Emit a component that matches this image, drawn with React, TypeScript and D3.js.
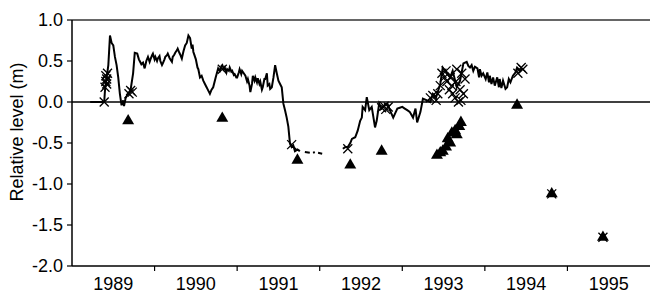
import React from "react";
import * as d3 from "d3";

// Continuous level record (decimal year, relative level in m); NaN = gap
const lineYears = [
  1988.72, 1988.89, 1988.90, 1988.92, 1988.94, 1988.96, 1988.98, 1989.00, 1989.02, 1989.04,
  1989.06, 1989.08, 1989.10, 1989.12, 1989.13, 1989.15, 1989.18, 1989.21, 1989.24, 1989.26,
  1989.29, 1989.31, 1989.32, 1989.34, 1989.36, 1989.38, 1989.40, 1989.42, 1989.44, 1989.45,
  1989.47, 1989.48, 1989.50, 1989.51, 1989.53, 1989.54, 1989.56, 1989.57, 1989.59, 1989.60,
  1989.62, 1989.63, 1989.65, 1989.66, 1989.68, 1989.69, 1989.71, 1989.72, 1989.74, 1989.75,
  1989.77, 1989.78, 1989.80, 1989.81, 1989.83, 1989.85, 1989.87, 1989.89, 1989.91, 1989.93,
  1989.95, 1989.96, 1989.97, 1989.98, 1989.99, 1990.00, 1990.01, 1990.02, 1990.03, 1990.04,
  1990.05, 1990.07, 1990.09, 1990.11, 1990.13, 1990.14, 1990.16, 1990.17, 1990.19, 1990.21,
  1990.24, 1990.27, 1990.29, 1990.31, 1990.32, 1990.34, 1990.35, 1990.37, 1990.38, 1990.40,
  1990.41, 1990.43, 1990.44, 1990.46, 1990.47, 1990.49, 1990.50, 1990.52, 1990.53, 1990.55,
  1990.56, 1990.58, 1990.60, 1990.62, 1990.63, 1990.65, 1990.66, 1990.68, 1990.69, 1990.71,
  1990.72, 1990.74, 1990.75, 1990.77, 1990.78, 1990.80, 1990.81, 1990.83, 1990.84, 1990.86,
  1990.87, 1990.89, 1990.90, 1990.92, 1990.94, 1990.96, 1990.98, 1991.00, 1991.02, 1991.04,
  1991.06, 1991.08, 1991.10, 1991.12, 1991.14, 1991.16, 1991.18, 1991.20, 1991.23, 1991.26,
  1991.29, 1991.32, 1991.38, 1991.40, 1991.42, 1991.44, 1991.46, 1991.48, 1991.53, 1991.60,
  1991.78, 1991.81, 1991.84, 1991.87, 1991.89, 1991.93, 1991.96, 1991.99, 1992.01, 1992.02,
  1992.05, 1992.07, 1992.10, 1992.13, 1992.17, 1992.19, 1992.22, 1992.25, 1992.27, 1992.29,
  1992.32, 1992.35, 1992.39, 1992.44, 1992.47, 1992.50, 1992.53, 1992.56, 1992.59, 1992.63,
  1992.66, 1992.68, 1992.72, 1992.75, 1992.80, 1992.84, 1992.87, 1992.91, 1992.96, 1992.99,
  1993.04, 1993.08, 1993.11, 1993.16, 1993.20, 1993.24, 1993.28, 1993.30, 1993.32, 1993.34,
  1993.36, 1993.38, 1993.41, 1993.43, 1993.44, 1993.46, 1993.48, 1993.51, 1993.53, 1993.55,
  1993.56, 1993.58, 1993.60, 1993.62, 1993.65, 1993.67, 1993.68, 1993.70, 1993.72, 1993.75,
  1993.77, 1993.79, 1993.81, 1993.84, 1993.87, 1993.89, 1993.93, 1993.96,
];
const lineValues = [
  0.00, 0.00, 0.15, 0.30, 0.45, 0.81, 0.72, 0.69, 0.55, 0.45,
  0.30, 0.10, -0.04, 0.02, -0.05, 0.05, 0.10, 0.15, 0.35, 0.60,
  0.59, 0.52, 0.50, 0.46, 0.48, 0.41, 0.50, 0.55, 0.49, 0.52,
  0.57, 0.59, 0.52, 0.55, 0.50, 0.53, 0.56, 0.50, 0.45, 0.47,
  0.52, 0.55, 0.57, 0.59, 0.54, 0.52, 0.49, 0.55, 0.58, 0.60,
  0.63, 0.65, 0.60, 0.58, 0.53, 0.62, 0.69, 0.72, 0.81, 0.78,
  0.65, 0.70, 0.61, 0.58, 0.55, 0.52, 0.47, 0.42, 0.40, 0.35,
  0.30, 0.32, 0.26, 0.22, 0.18, 0.16, 0.12, 0.10, 0.15, 0.18,
  0.30, 0.41, 0.38, 0.44, 0.45, 0.40, 0.42, 0.36, 0.40, 0.38,
  0.42, 0.37, 0.38, 0.33, 0.34, 0.30, 0.30, 0.36, 0.40, 0.34,
  0.38, 0.35, 0.32, 0.25, 0.28, 0.20, 0.12, 0.22, 0.32, 0.26,
  0.30, 0.24, 0.29, 0.22, 0.25, 0.15, 0.18, 0.28, 0.28, 0.35,
  0.20, 0.22, 0.16, 0.18, 0.30, 0.45, 0.35, 0.26, 0.22, 0.18,
  -0.02, -0.10, -0.19, -0.30, -0.51, -0.55, -0.53, -0.60, -0.58, -0.60,
  NaN, -0.61, -0.62, NaN, -0.62, -0.61, NaN, -0.62, -0.63, NaN,
  -0.57, -0.55, -0.55, -0.50, -0.45, -0.43, -0.35, -0.23, -0.19, -0.06,
  -0.10, 0.06, -0.10, -0.06, -0.31, -0.23, -0.02, -0.08, -0.06, -0.04,
  -0.02, -0.10, -0.19, -0.08, -0.07, -0.06, -0.08, -0.10, -0.12, -0.19,
  -0.08, -0.25, -0.12, 0.04, 0.02, 0.00, 0.10, 0.06, 0.22, 0.42,
  0.35, 0.30, 0.38, 0.18, 0.26, 0.47, 0.49, 0.44, 0.42, 0.45,
  0.38, 0.43, 0.41, 0.30, 0.40, 0.32, 0.35, 0.28, 0.36, 0.24,
  0.32, 0.22, 0.30, 0.20, 0.30, 0.18, 0.28, 0.17, 0.26, 0.16,
  0.18, 0.28, 0.24, 0.32, 0.36, 0.42, 0.38, 0.41,
];

// Spot measurements (cross markers)
const crossYears = [
  1988.89, 1988.90, 1988.91, 1988.91, 1988.92, 1988.93, 1988.92, 1989.19, 1989.21, 1989.23,
  1990.32, 1991.16, 1991.84, 1992.25, 1992.28, 1992.30, 1992.33,
  1992.84, 1992.87, 1992.91, 1992.93, 1992.96, 1992.98, 1993.01, 1993.03, 1993.04, 1993.07,
  1993.08, 1993.10, 1993.11, 1993.14, 1993.15, 1993.16, 1993.18, 1993.20, 1993.21, 1993.22,
  1993.24, 1993.26, 1993.90, 1993.94, 1993.96, 1994.31, 1994.93,
];
const crossValues = [
  0.00, 0.18, 0.25, 0.32, 0.28, 0.35, 0.22, 0.10, 0.14, 0.12,
  0.40, -0.52, -0.57, -0.07, -0.05, -0.09, -0.06,
  0.05, 0.08, 0.02, 0.10, 0.20, 0.35, 0.30, 0.38, 0.25, 0.15,
  0.30, 0.20, 0.10, 0.05, 0.25, 0.40, 0.00, 0.15, 0.02, 0.35,
  0.10, 0.28, 0.35, 0.42, 0.40, -1.12, -1.65,
];

// Second measurement series (filled triangles)
const triYears = [
  1989.18, 1990.32, 1991.23, 1991.87, 1992.25, 1992.92, 1992.96, 1992.99, 1993.03, 1993.05,
  1993.08, 1993.10, 1993.14, 1993.16, 1993.19, 1993.21, 1993.89, 1994.31, 1994.93,
];
const triValues = [
  -0.23, -0.20, -0.71, -0.77, -0.60, -0.65, -0.62, -0.60, -0.55, -0.45,
  -0.50, -0.38, -0.35, -0.40, -0.30, -0.25, -0.04, -1.12, -1.65,
];

const yTicks = [1.0, 0.5, 0.0, -0.5, -1.0, -1.5, -2.0];
const yearLabels = [1989, 1990, 1991, 1992, 1993, 1994, 1995];
const yearBoundaries = [1989.5, 1990.5, 1991.5, 1992.5, 1993.5, 1994.5];

const W = 650, H = 293;
const left = 72, right = 650, top = 20, bottom = 266;
const FONT = "'Liberation Sans', Arial, Helvetica, sans-serif";

export default function App() {
  const x = d3.scaleLinear().domain([1988.5, 1995.5]).range([left, right]);
  const y = d3.scaleLinear().domain([-2, 1]).range([bottom, top]);

  const linePts = lineYears.map((t, i) => [t, lineValues[i]] as [number, number]);
  const lineGen = d3
    .line<[number, number]>()
    .defined((d) => !isNaN(d[1]))
    .x((d) => x(d[0]))
    .y((d) => y(d[1]));

  const tri = d3.symbol().type(d3.symbolTriangle).size(62)();
  const cs = 4.5;

  return (
    <svg width={W} height={H} style={{ position: "absolute", left: 0, top: 0, background: "#fff" }}>
      <rect x={0} y={0} width={W} height={H} fill="#fff" />
      <line x1={left} x2={right} y1={y(1)} y2={y(1)} stroke="#333" strokeWidth={1.5} />
      <line x1={left} x2={right} y1={y(0)} y2={y(0)} stroke="#000" strokeWidth={1.5} />
      <line x1={left} x2={right} y1={bottom} y2={bottom} stroke="#000" strokeWidth={1.5} />
      <line x1={left} x2={left} y1={top} y2={bottom} stroke="#000" strokeWidth={1.5} />
      {yTicks.map((v) => (
        <g key={v}>
          <line x1={left - 5} x2={left} y1={y(v)} y2={y(v)} stroke="#000" strokeWidth={1.2} />
          <text x={left - 9} y={y(v)} dy="0.36em" textAnchor="end" fontFamily={FONT} fontSize={18} fill="#000">
            {v.toFixed(1)}
          </text>
        </g>
      ))}
      {yearBoundaries.map((b) => (
        <line key={b} x1={x(b)} x2={x(b)} y1={bottom} y2={bottom + 5} stroke="#000" strokeWidth={1.2} />
      ))}
      {yearLabels.map((yr) => (
        <text key={yr} x={x(yr)} y={290} textAnchor="middle" fontFamily={FONT} fontSize={18} fill="#000">
          {yr}
        </text>
      ))}
      <text
        transform={`translate(23,132) rotate(-90)`}
        textAnchor="middle"
        fontFamily={FONT}
        fontSize={18}
        fill="#000"
      >
        Relative level (m)
      </text>
      <path d={lineGen(linePts) || ""} fill="none" stroke="#000" strokeWidth={2} strokeLinejoin="miter" />
      {triYears.map((t, i) => (
        <path key={i} d={tri} transform={`translate(${x(t)},${y(triValues[i])})`} fill="#000" />
      ))}
      {crossYears.map((t, i) => {
        const cx = x(t), cy = y(crossValues[i]);
        return (
          <path
            key={i}
            d={`M${cx - cs},${cy - cs}L${cx + cs},${cy + cs}M${cx - cs},${cy + cs}L${cx + cs},${cy - cs}`}
            stroke="#000"
            strokeWidth={1.3}
            fill="none"
          />
        );
      })}
    </svg>
  );
}
